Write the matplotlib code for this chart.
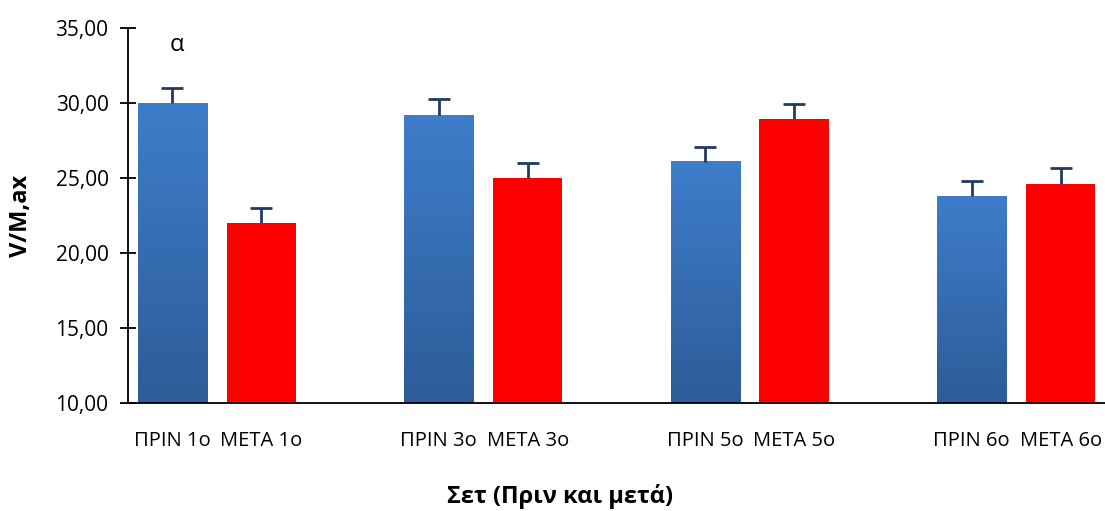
import numpy as np
import matplotlib
matplotlib.use('Agg')
import matplotlib.pyplot as plt
from matplotlib.colors import LinearSegmentedColormap

plt.rcParams['font.family'] = ['Open Sans', 'DejaVu Sans']

# data (empty slots are the gaps between sets)
categories = ['ΠΡΙΝ 1ο', 'ΜΕΤΑ 1ο', '', 'ΠΡΙΝ 3ο', 'ΜΕΤΑ 3ο', '',
              'ΠΡΙΝ 5ο', 'ΜΕΤΑ 5ο', '', 'ΠΡΙΝ 6ο', 'ΜΕΤΑ 6ο']
values = [30.00, 22.00, None, 29.20, 25.00, None,
          26.07, 28.93, None, 23.80, 24.60]
errors = [1.00, 1.00, None, 1.05, 1.00, None,
          1.00, 1.00, None, 1.00, 1.05]
is_before = [True, False, None, True, False, None,
             True, False, None, True, False]
y_ticks = [10, 15, 20, 25, 30, 35]

blue_grad = LinearSegmentedColormap.from_list('bg', ['#2D5C98', '#3E7DCA'])
red = '#FF0000'
err_col = '#1F3B63'
width = 0.78

fig = plt.figure(figsize=(11.05, 5.11), dpi=100)
ax = fig.add_axes([0.1158, 0.2114, 0.8842, 0.7338])

grad = np.linspace(0, 1, 256).reshape(-1, 1)
for i, v in enumerate(values):
    if v is None:
        continue
    x0, x1 = i - width / 2, i + width / 2
    if is_before[i]:
        ax.imshow(grad, extent=[x0, x1, 10, v], origin='lower', aspect='auto',
                  cmap=blue_grad, zorder=2)
    else:
        ax.bar(i, v - 10, bottom=10, width=width, color=red, zorder=2)
    eb = ax.errorbar(i, v, yerr=[[0], [errors[i]]], color=err_col, lw=2,
                     capsize=8, capthick=2, zorder=3)
    eb[1][0].set_visible(False)  # only the upper cap

ax.set_xlim(-0.5, len(categories) - 0.5)
ax.set_ylim(10, 35)
ax.set_yticks(y_ticks)
ax.set_yticklabels([f'{t:.2f}'.replace('.', ',') for t in y_ticks], fontsize=15)
ax.set_xticks([i for i, c in enumerate(categories) if c])
ax.set_xticklabels([c for c in categories if c], fontsize=14.5)
ax.tick_params(axis='x', length=0, pad=20)
ax.tick_params(axis='y', direction='inout', length=12, width=1.3, pad=8)

for s in ['top', 'right']:
    ax.spines[s].set_visible(False)
for s in ['left', 'bottom']:
    ax.spines[s].set_linewidth(1.3)
    ax.spines[s].set_color('black')

ax.text(0.05, 33.9, 'α', ha='center', va='center', fontsize=17)

ax.set_ylabel('V/M,ax', fontsize=17, fontweight='bold')
ax.yaxis.set_label_coords(-0.097, 0.5)
ax.set_xlabel('Σετ (Πριν και μετά)', fontsize=17, fontweight='bold')
ax.xaxis.set_label_coords(0.442, -0.215)

fig.savefig('out.png', dpi=100)
